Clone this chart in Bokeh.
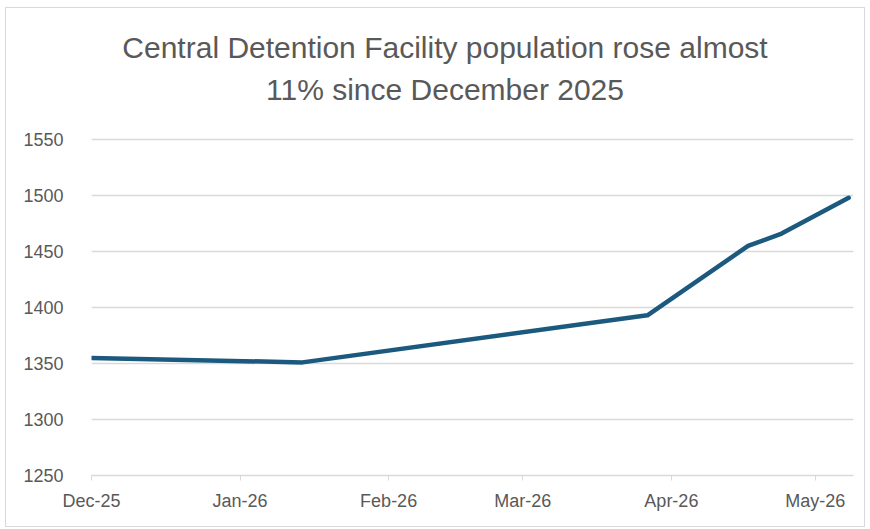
from datetime import datetime
from bokeh.plotting import figure
from bokeh.models import Range1d, FixedTicker, DatetimeTickFormatter, Label, ColumnDataSource
from bokeh.embed import file_html
from bokeh.resources import INLINE

# ---- data ----
dates = [datetime(2025, 12, 1), datetime(2026, 1, 14), datetime(2026, 3, 27),
         datetime(2026, 4, 17), datetime(2026, 4, 24), datetime(2026, 5, 8)]
population = [1355, 1351, 1393, 1455, 1466, 1498]
month_ticks = [datetime(2025, 12, 1), datetime(2026, 1, 1), datetime(2026, 2, 1),
               datetime(2026, 3, 1), datetime(2026, 4, 1), datetime(2026, 5, 1)]
y_ticks = [1250, 1300, 1350, 1400, 1450, 1500, 1550]
title_lines = ["Central Detention Facility population rose almost", "11% since December 2025"]

def ms(d):
    return (d - datetime(1970, 1, 1)).total_seconds() * 1000.0

TXT = "#595959"
GRID = "#d9d9d9"
FONT = "Liberation Sans"

# layout (page pixels): plot area from x=90..852, value 1250 at y=474, 1550 at y=138
X0, X1 = datetime(2025, 12, 1), datetime(2026, 5, 9)
PX_PER_UNIT = (474 - 138) / 300.0
FRAME_TOP = 15
Y_END = 1250 + (474 - FRAME_TOP) / PX_PER_UNIT   # extra headroom holds the title

p = figure(width=860, height=520, x_axis_type="datetime",
           x_range=Range1d(X0, X1), y_range=Range1d(1250, Y_END),
           output_backend="svg", toolbar_location=None,
           min_border_left=85, min_border_right=13, min_border_top=FRAME_TOP - 7,
           min_border_bottom=53)
p.margin = (7, 5, 2, 5)
p.outline_line_color = None
p.styles = {"border": "1px solid #d9d9d9"}

src = ColumnDataSource(dict(x=dates, y=population))
p.line("x", "y", source=src, line_color="#1b5a7e", line_width=4.5, line_join="round", line_cap="round")

# axes
p.xaxis.ticker = FixedTicker(ticks=[ms(d) for d in month_ticks])
p.xaxis.formatter = DatetimeTickFormatter(months="%b-%y", days="%b-%y", hours="%b-%y",
                                          years="%b-%y", minutes="%b-%y", seconds="%b-%y",
                                          milliseconds="%b-%y", minsec="%b-%y", hourmin="%b-%y")
p.xaxis.axis_line_color = GRID
p.xaxis.axis_line_width = 1.5
p.xaxis.major_tick_line_color = GRID
p.xaxis.major_tick_in = 0
p.xaxis.major_tick_out = 5
p.xaxis.minor_tick_line_color = None
p.xaxis.major_label_standoff = 10
p.xaxis.major_label_text_color = TXT
p.xaxis.major_label_text_font = FONT
p.xaxis.major_label_text_font_size = "18px"

p.yaxis.ticker = FixedTicker(ticks=y_ticks)
p.yaxis.axis_line_color = None
p.yaxis.major_tick_line_color = None
p.yaxis.minor_tick_line_color = None
p.yaxis.major_label_standoff = 22
p.yaxis.major_label_text_color = TXT
p.yaxis.major_label_text_font = FONT
p.yaxis.major_label_text_font_size = "18px"

p.xgrid.grid_line_color = None
p.ygrid.grid_line_color = GRID
p.ygrid.grid_line_width = 1.5

# title: two centred lines placed in the headroom above 1550
x_mid = ms(X0) + (ms(X1) - ms(X0)) * (443.5 - 90) / (852 - 90)
for txt, baseline_px in zip(title_lines, [45.5, 88.0]):
    p.add_layout(Label(x=x_mid, y=1250 + (474 - baseline_px) / PX_PER_UNIT, text=txt,
                       text_align="center", text_baseline="alphabetic",
                       text_font=FONT, text_font_size="30px", text_color=TXT))

open("out.html", "w").write(file_html(p, INLINE))
